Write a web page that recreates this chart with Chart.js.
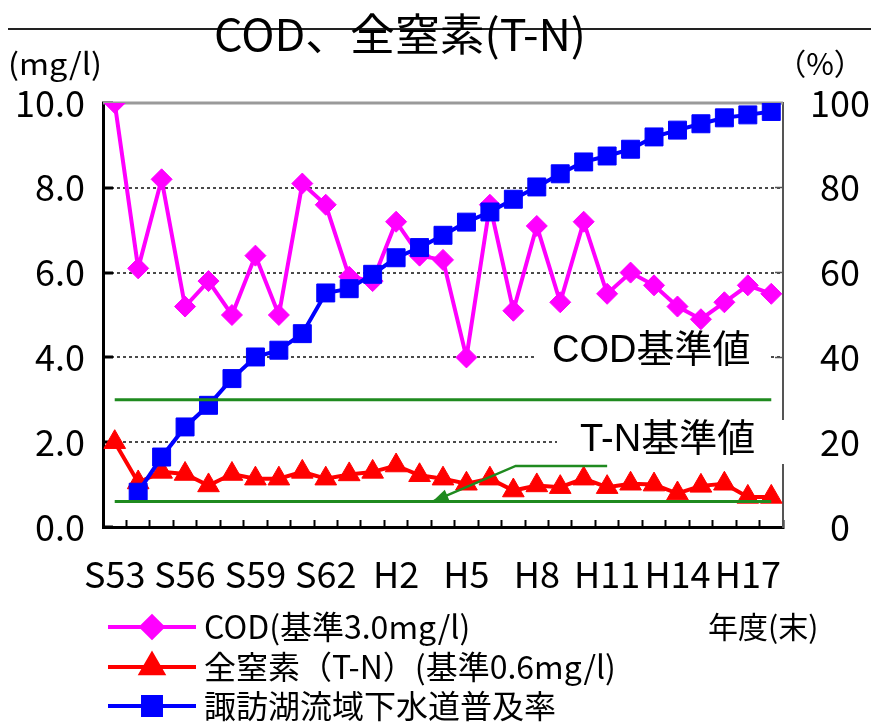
<!DOCTYPE html>
<html>
<head>
<meta charset="utf-8">
<script src="https://cdn.jsdelivr.net/npm/chart.js@4.4.1/dist/chart.umd.min.js"></script>
<style>
  html, body { margin: 0; padding: 0; background: #fff; }
  #wrap { width: 871px; height: 724px; }
</style>
</head>
<body>
<div id="wrap"><canvas id="chart" width="871" height="724"></canvas></div>
<script>
// Fiscal years (昭和 S53 … 平成 H18)
const categories = ['S53','S54','S55','S56','S57','S58','S59','S60','S61','S62','S63',
  'H1','H2','H3','H4','H5','H6','H7','H8','H9','H10','H11','H12','H13','H14','H15','H16','H17','H18'];
// Years that carry a label on the horizontal axis
const tickLabels = ['S53','S56','S59','S62','H2','H5','H8','H11','H14','H17'];

// COD (mg/l)
const codValues = [10.0, 6.1, 8.2, 5.2, 5.8, 5.0, 6.4, 5.0, 8.1, 7.6, 5.9,
  5.8, 7.2, 6.4, 6.3, 4.0, 7.6, 5.1, 7.1, 5.3, 7.2, 5.5, 6.0, 5.7, 5.2, 4.9, 5.3, 5.7, 5.5];
// 全窒素 T-N (mg/l)
const tnValues = [2.0, 1.05, 1.3, 1.25, 0.98, 1.25, 1.14, 1.14, 1.3, 1.14, 1.24,
  1.3, 1.45, 1.22, 1.14, 1.02, 1.14, 0.86, 0.98, 0.94, 1.14, 0.94, 1.02, 1.0, 0.79, 0.97, 1.02, 0.71, 0.71];
// 諏訪湖流域下水道普及率 (%)
const sewerageRate = [null, 8.2, 16.5, 23.6, 28.7, 35.0, 40.1, 41.7, 45.6, 55.2, 56.2,
  59.6, 63.5, 65.9, 68.8, 71.9, 74.3, 77.3, 80.2, 83.3, 86.1, 87.5, 89.1, 92.0, 93.6, 95.1, 96.5, 97.2, 98.0];

// Environmental standards (mg/l)
const codStandard = 3.0;
const tnStandard = 0.6;

const seriesNames = ['COD(基準3.0mg/l)', '全窒素（T-N）(基準0.6mg/l)', '諏訪湖流域下水道普及率'];
const titleText = 'COD、全窒素(T-N)';
const leftUnit = '(mg/l)';
const rightUnit = '（%）';
const yearNote = '年度(末)';
const codStdLabel = 'COD基準値';
const tnStdLabel = 'T-N基準値';

const GOTHIC = "'Noto Sans CJK JP', sans-serif";
const SANS = "'Liberation Sans', 'Noto Sans CJK JP', sans-serif";
const GREEN = '#1f8a1f';

const standardLine = (label, v) => ({
  label, data: categories.map(() => v), yAxisID: 'y',
  borderColor: GREEN, borderWidth: 3, pointRadius: 0, order: 0, isStandard: true
});

// Decorations: title, units, legend, standard-value captions and pointer arrow
const decor = {
  id: 'decor',
  beforeDraw(chart) {
    const ctx = chart.ctx;
    ctx.save();
    ctx.fillStyle = '#fff';
    ctx.fillRect(0, 0, chart.width, chart.height);
    ctx.restore();
  },
  beforeDatasetsDraw(chart) {
    const { ctx, chartArea: a } = chart;
    ctx.save();
    ctx.strokeStyle = '#9a9a9a';
    ctx.lineWidth = 3;
    ctx.beginPath();
    ctx.moveTo(a.left, a.top);
    ctx.lineTo(a.right, a.top);
    ctx.stroke();
    ctx.restore();
  },
  afterDraw(chart) {
    const { ctx } = chart;
    const xs = chart.scales.x, ys = chart.scales.y;
    ctx.save();

    // standard-value captions on white boxes
    const caption = (text, x, yMid, box) => {
      ctx.fillStyle = '#fff';
      ctx.fillRect(box[0], box[1], box[2] - box[0], box[3] - box[1]);
      ctx.fillStyle = '#000';
      ctx.font = '38px ' + SANS;
      ctx.textAlign = 'left';
      ctx.textBaseline = 'middle';
      ctx.fillText(text, x, yMid);
    };
    caption(codStdLabel, 552, 352, [535, 333, 770, 373]);
    caption(tnStdLabel, 580, 441, [557, 420, 790, 464]);

    // arrow from caption to the T-N standard line
    const path = [[21, 1.44], [17.1, 1.44], [13.55, tnStandard]].map(([i, v]) => [xs.getPixelForValue(i), ys.getPixelForValue(v)]);
    ctx.strokeStyle = GREEN;
    ctx.fillStyle = GREEN;
    ctx.lineWidth = 2.5;
    ctx.beginPath();
    ctx.moveTo(path[0][0], path[0][1]);
    for (let k = 1; k < path.length; k++) ctx.lineTo(path[k][0], path[k][1]);
    ctx.stroke();
    const [px, py] = path[path.length - 2], [tx, ty] = path[path.length - 1];
    const ang = Math.atan2(ty - py, tx - px);
    ctx.beginPath();
    ctx.moveTo(tx, ty);
    ctx.lineTo(tx - 16 * Math.cos(ang) + 6 * Math.sin(ang), ty - 16 * Math.sin(ang) - 6 * Math.cos(ang));
    ctx.lineTo(tx - 16 * Math.cos(ang) - 6 * Math.sin(ang), ty - 16 * Math.sin(ang) + 6 * Math.cos(ang));
    ctx.closePath();
    ctx.fill();

    // title and rule
    ctx.strokeStyle = '#222';
    ctx.lineWidth = 2;
    ctx.beginPath();
    ctx.moveTo(8, 29);
    ctx.lineTo(chart.width, 29);
    ctx.stroke();
    ctx.fillStyle = '#000';
    ctx.font = '44px ' + GOTHIC;
    ctx.textAlign = 'left';
    ctx.textBaseline = 'middle';
    const tw = ctx.measureText(titleText).width;
    ctx.save();
    ctx.translate(214, 34);
    ctx.scale(372 / tw, 1);
    ctx.fillText(titleText, 0, 0);
    ctx.restore();

    // unit captions
    ctx.font = '30px ' + GOTHIC;
    ctx.textAlign = 'left';
    ctx.save();
    ctx.translate(8, 64);
    const uw = ctx.measureText(leftUnit).width;
    ctx.scale(94 / uw, 1);
    ctx.fillText(leftUnit, 0, 0);
    ctx.restore();
    ctx.textAlign = 'center';
    ctx.fillText(rightUnit, 820, 64);
    ctx.font = '30px ' + GOTHIC;
    ctx.textAlign = 'left';
    ctx.fillText(yearNote, 708, 627);

    // legend
    const rows = [627, 667, 706];
    chart.data.datasets.filter(d => !d.isStandard).forEach((d, k) => {
      const y = rows[k];
      ctx.strokeStyle = d.borderColor;
      ctx.lineWidth = d.borderWidth;
      ctx.beginPath();
      ctx.moveTo(108, y);
      ctx.lineTo(196, y);
      ctx.stroke();
      Chart.helpers.drawPoint(ctx, {
        pointStyle: d.pointStyle, radius: d.pointRadius, rotation: 0, borderWidth: 1
      }, 152, y);
      ctx.fillStyle = d.backgroundColor;
      ctx.strokeStyle = d.borderColor;
      ctx.lineWidth = 1;
      ctx.fill();
      ctx.stroke();
      ctx.fillStyle = '#000';
      ctx.font = '32px ' + GOTHIC;
      ctx.textAlign = 'left';
      ctx.textBaseline = 'middle';
      ctx.fillText(d.label, 204, y);
    });
    ctx.restore();
  }
};

new Chart(document.getElementById('chart'), {
  type: 'line',
  data: {
    labels: categories,
    datasets: [
      {
        label: seriesNames[0], data: codValues, yAxisID: 'y',
        borderColor: '#ff00ff', backgroundColor: '#ff00ff', borderWidth: 4,
        pointStyle: 'rectRot', pointRadius: 10.5, pointBorderWidth: 1, order: 3
      },
      {
        label: seriesNames[1], data: tnValues, yAxisID: 'y',
        borderColor: '#ff0000', backgroundColor: '#ff0000', borderWidth: 4,
        pointStyle: 'triangle', pointRadius: 12.5, pointBorderWidth: 1, order: 2
      },
      {
        label: seriesNames[2], data: sewerageRate, yAxisID: 'y2',
        borderColor: '#0000ff', backgroundColor: '#0000ff', borderWidth: 4,
        pointStyle: 'rect', pointRadius: 12.7, pointBorderWidth: 1, order: 1
      },
      standardLine('COD基準値', codStandard),
      standardLine('T-N基準値', tnStandard)
    ]
  },
  options: {
    responsive: false,
    devicePixelRatio: 1,
    animation: false,
    layout: { padding: { top: 103, left: 0, right: 0, bottom: 0 } },
    plugins: { legend: { display: false }, tooltip: { enabled: false }, title: { display: false } },
    elements: { line: { tension: 0 } },
    scales: {
      x: {
        type: 'category', offset: true,
        grid: { offset: true, drawOnChartArea: false, drawTicks: true, tickLength: -7, tickColor: '#000', tickWidth: 2 },
        border: { display: true, color: '#000', width: 3 },
        ticks: {
          autoSkip: false, maxRotation: 0, padding: 33, color: '#000',
          font: { family: GOTHIC, size: 36 },
          callback: (v, i) => tickLabels.includes(categories[i]) ? categories[i] : ''
        },
        afterFit: s => { s.height = 724 - 527; }
      },
      y: {
        position: 'left', min: 0, max: 10,
        grid: {
          drawOnChartArea: true, drawTicks: true, tickLength: -10, tickColor: '#000', tickWidth: 3,
          color: c => (c.tick && (c.tick.value === 0 || c.tick.value === 10)) ? 'rgba(0,0,0,0)' : '#4a4a4a',
          lineWidth: 2
        },
        border: { display: true, color: '#000', width: 3, dash: [3, 3] },
        ticks: {
          stepSize: 2, padding: 28, color: '#000',
          font: { family: GOTHIC, size: 36 },
          callback: v => Number(v).toFixed(1)
        },
        afterFit: s => { s.width = 103; }
      },
      y2: {
        position: 'right', min: 0, max: 100,
        grid: { drawOnChartArea: false, drawTicks: true, tickLength: -8, tickColor: '#555', tickWidth: 1.5 },
        border: { display: true, color: '#555', width: 2 },
        ticks: {
          stepSize: 20, padding: 35, color: '#000', crossAlign: 'center',
          font: { family: GOTHIC, size: 36 }
        },
        afterFit: s => { s.width = 871 - 783; }
      }
    }
  },
  plugins: [decor]
});
</script>
</body>
</html>
